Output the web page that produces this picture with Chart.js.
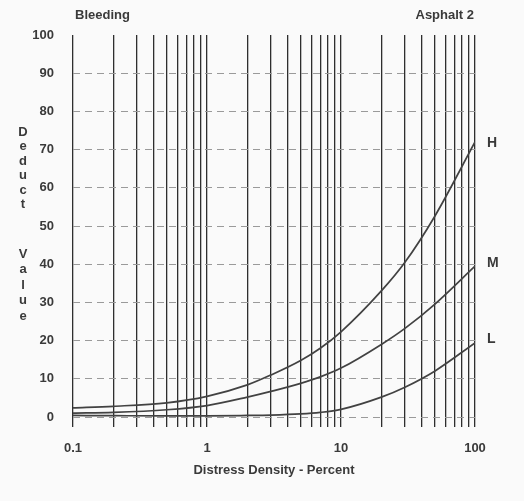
<!DOCTYPE html>
<html>
<head>
<meta charset="utf-8">
<script src="https://cdn.jsdelivr.net/npm/chart.js@4/dist/chart.umd.min.js"></script>
<style>
  html, body { margin: 0; padding: 0; background: #fafafa; }
  #wrap { width: 524px; height: 501px; position: relative; }
</style>
</head>
<body>
<div id="wrap"><canvas id="curveChart"></canvas></div>
<script>
const density = [0.1, 0.2, 0.5, 1, 2, 3, 5, 7, 10, 20, 30, 50, 100];
const highValues = [2.4, 2.8, 3.7, 5.4, 8.4, 11, 14.8, 18, 22.3, 33, 40.5, 52.5, 72];
const mediumValues = [1.0, 1.2, 1.9, 3.0, 5.2, 6.7, 8.8, 10.5, 12.8, 19, 23.2, 29.5, 39.5];
const lowValues = [0.4, 0.35, 0.3, 0.3, 0.4, 0.5, 0.8, 1.2, 2, 5.2, 7.8, 12, 19.4];

const xTickLabels = [0.1, 1, 10, 100];
const xGridValues = [
    0.1, 0.2, 0.3, 0.4, 0.5, 0.6, 0.7, 0.8, 0.9,
    1, 2, 3, 4, 5, 6, 7, 8, 9,
    10, 20, 30, 40, 50, 60, 70, 80, 90, 100
];
const yTicks = [0, 10, 20, 30, 40, 50, 60, 70, 80, 90, 100];

const inkColor = '#3a3a3a';
const labelFont = '"Liberation Sans", Arial, sans-serif';

function toPoints(values) {
    return density.map((d, i) => ({ x: d, y: values[i] }));
}

function curve(label, values) {
    return {
        label: label,
        data: toPoints(values),
        borderColor: '#424242',
        borderWidth: 1.7,
        pointRadius: 0,
        fill: false,
        cubicInterpolationMode: 'monotone'
    };
}

// texts around the plot
const annotations = {
    id: 'annotations',
    beforeDraw(chart) {
        const ctx = chart.ctx;
        ctx.save();
        ctx.fillStyle = '#fafafa';
        ctx.fillRect(0, 0, chart.width, chart.height);
        ctx.restore();
    },
    afterDraw(chart) {
        const ctx = chart.ctx;
        const xs = chart.scales.x;
        const ys = chart.scales.y;
        ctx.save();
        ctx.fillStyle = inkColor;
        ctx.textBaseline = 'middle';
        ctx.font = 'bold 13px ' + labelFont;

        ctx.textAlign = 'left';
        ctx.fillText('Bleeding', 75, 15);
        ctx.textAlign = 'right';
        ctx.fillText('Asphalt 2', 474, 15);

        // x axis title
        ctx.textAlign = 'center';
        ctx.fillText('Distress Density - Percent', (chart.chartArea.left + chart.chartArea.right) / 2, 470);

        // y title, one letter per line
        'Deduct'.split('').forEach((ch, i) => ctx.fillText(ch, 23, 132 + i * 14.5));
        'Value'.split('').forEach((ch, i) => ctx.fillText(ch, 23, 254 + i * 15.5));

        // curve labels at the right end
        ctx.textAlign = 'left';
        ctx.font = 'bold 14px ' + labelFont;
        const lastX = xs.getPixelForValue(100) + 12;
        ctx.fillText('H', lastX, ys.getPixelForValue(highValues[highValues.length - 1]) + 1);
        ctx.fillText('M', lastX, ys.getPixelForValue(mediumValues[mediumValues.length - 1]) - 3);
        ctx.fillText('L', lastX, ys.getPixelForValue(lowValues[lowValues.length - 1]) - 4);
        ctx.restore();
    }
};

const curveChart = new Chart(document.getElementById('curveChart').getContext('2d'), {
    type: 'line',
    data: {
        datasets: [
            curve('H', highValues),
            curve('M', mediumValues),
            curve('L', lowValues)
        ]
    },
    options: {
        responsive: true,
        maintainAspectRatio: false,
        animation: false,
        layout: {
            padding: { top: 35, right: 49, left: 0, bottom: 0 }
        },
        plugins: {
            legend: { display: false },
            tooltip: { enabled: false }
        },
        scales: {
            x: {
                type: 'logarithmic',
                min: 0.1,
                max: 100,
                afterBuildTicks: scale => {
                    scale.ticks = xGridValues.map(v => ({ value: v }));
                },
                afterFit: scale => {
                    scale.height = 84;
                },
                ticks: {
                    autoSkip: false,
                    maxRotation: 0,
                    padding: 14,
                    color: inkColor,
                    font: { family: labelFont, size: 13, weight: 'bold' },
                    callback: value => xTickLabels.includes(value) ? String(value) : ''
                },
                grid: {
                    color: '#2e2e2e',
                    lineWidth: 1.3,
                    tickLength: 10,
                    drawTicks: true
                },
                border: { display: false }
            },
            y: {
                min: 0,
                max: 100,
                afterBuildTicks: scale => {
                    scale.ticks = yTicks.map(v => ({ value: v }));
                },
                afterFit: scale => {
                    scale.width = 73;
                },
                ticks: {
                    padding: 19,
                    color: inkColor,
                    font: { family: labelFont, size: 13, weight: 'bold' }
                },
                grid: {
                    color: ctx => ctx.tick && ctx.tick.value === 100 ? 'rgba(0,0,0,0)' : '#9a9a9a',
                    lineWidth: 1,
                    drawTicks: false
                },
                border: { display: false, dash: [7, 5] }
            }
        }
    },
    plugins: [annotations]
});
</script>
</body>
</html>
